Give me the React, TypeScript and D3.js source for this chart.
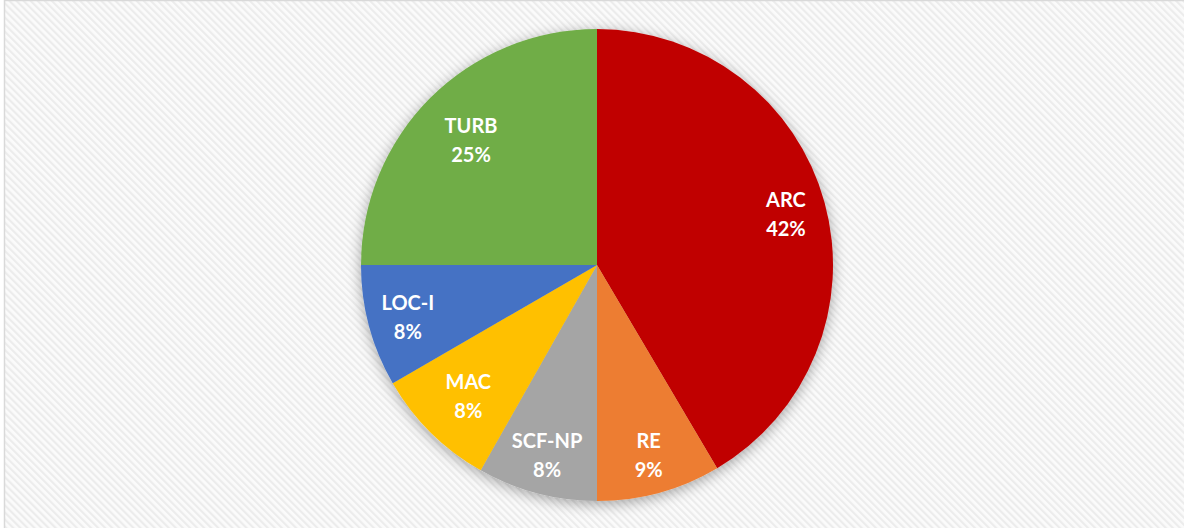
import React from "react";
import * as d3 from "d3";

// occurrence categories, share of events (percent)
const categories = ["ARC", "RE", "SCF-NP", "MAC", "LOC-I", "TURB"];
const shares = [41.5, 8.5, 8.2, 8.45, 8.35, 25.0];
const colors = ["#C00000", "#ED7D31", "#A5A5A5", "#FFC000", "#4472C4", "#70AD47"];

const W = 1184;
const H = 528;
const cx = 597;
const cy = 265;
const R = 236;

// Excel "best fit" pulls a couple of labels inward
const labelFactor: Record<string, number> = { TURB: 0.755, MAC: 0.775 };

export default function App() {
  const data = categories.map((name, i) => ({ name, value: shares[i], color: colors[i] }));
  const total = d3.sum(shares);

  const pie = d3.pie<{ name: string; value: number; color: string }>()
    .value((d) => d.value)
    .sort(null)
    .startAngle(0)
    .endAngle(2 * Math.PI);

  const arcs = pie(data);
  const arc = d3.arc<d3.PieArcDatum<any>>().innerRadius(0).outerRadius(R);
  const pct = (v: number) => Math.round((v * 100) / total) + "%";

  React.useEffect(() => {
    document.body.style.margin = "0";
  }, []);

  return (
    <svg width={W} height={H} style={{ display: "block" }}>
      <defs>
        <pattern id="stripes" width="5" height="5" patternUnits="userSpaceOnUse" patternTransform="rotate(-45)">
          <rect width="5" height="5" fill="#fbfbfb" />
          <rect width="2.2" height="5" fill="#ececec" />
        </pattern>
        <filter id="shadow" x="-20%" y="-20%" width="140%" height="140%">
          <feDropShadow dx="0" dy="3" stdDeviation="7" floodColor="#000" floodOpacity="0.35" />
        </filter>
      </defs>
      <rect x={0} y={0} width={W} height={H} fill="#fff" />
      <rect x={4.5} y={0.5} width={W + 10} height={H + 10} fill="url(#stripes)" stroke="#d9d9d9" strokeWidth={1.5} />
      <g transform={`translate(${cx},${cy})`}>
        <g filter="url(#shadow)">
          {arcs.map((a) => (
            <path key={a.data.name} d={arc(a) || ""} fill={a.data.color} />
          ))}
        </g>
        {arcs.map((a) => {
          const k = labelFactor[a.data.name] ?? 0.83;
          const mid = (a.startAngle + a.endAngle) / 2;
          const x = Math.sin(mid) * R * k;
          const y = -Math.cos(mid) * R * k;
          return (
            <text
              key={a.data.name}
              x={x}
              y={y}
              textAnchor="middle"
              fill="#fff"
              fontFamily="Lato, 'Open Sans', sans-serif"
              fontWeight={700}
              fontSize={20}
            >
              <tspan x={x} dy="-0.3em">{a.data.name}</tspan>
              <tspan x={x} dy="1.45em">{pct(a.data.value)}</tspan>
            </text>
          );
        })}
      </g>
    </svg>
  );
}
